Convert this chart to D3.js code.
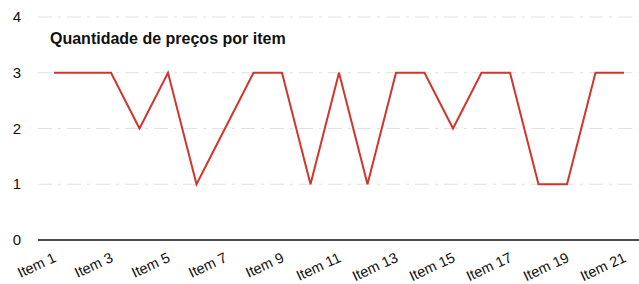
<!DOCTYPE html>
<html>
<head>
<meta charset="utf-8">
<script src="https://cdn.jsdelivr.net/npm/d3@7"></script>
<style>
  body { margin: 0; background: #fff; }
  text { font-family: "Liberation Sans", Arial, sans-serif; }
</style>
</head>
<body>
<div id="chart"></div>
<script>
var items = ['Item 1','Item 2','Item 3','Item 4','Item 5','Item 6','Item 7','Item 8','Item 9','Item 10','Item 11',
             'Item 12','Item 13','Item 14','Item 15','Item 16','Item 17','Item 18','Item 19','Item 20','Item 21'];
var counts = [3,3,3,2,3,1,2,3,3,1,3,1,3,3,2,3,3,1,1,3,3];
var yTicks = [0,1,2,3,4];
var title = 'Quantidade de preços por item';

var svgSize = {width: 639, height: 284};

var svg = d3.select('#chart').append('svg')
    .attr('width', svgSize.width)
    .attr('height', svgSize.height);

var x = d3.scalePoint()
    .domain(items)
    .range([54, 624]);

var y = d3.scaleLinear()
    .domain([0,4])
    .range([240, 17]);

// faint gridlines
svg.append('g').selectAll('line')
    .data(yTicks.slice(1))
    .enter().append('line')
    .attr('x1', 38).attr('x2', 639)
    .attr('y1', function(d) { return y(d); })
    .attr('y2', function(d) { return y(d); })
    .attr('stroke', '#e2e2e2')
    .attr('stroke-width', 1)
    .attr('stroke-dasharray', '14,6,3,6');

// y labels
svg.append('g').selectAll('text')
    .data(yTicks)
    .enter().append('text')
    .attr('x', 17)
    .attr('y', function(d) { return y(d) + 5; })
    .attr('text-anchor', 'middle')
    .attr('font-size', 15)
    .attr('fill', '#111')
    .text(function(d) { return d; });

// x axis baseline
svg.append('line')
    .attr('x1', 38).attr('x2', 639)
    .attr('y1', y(0)).attr('y2', y(0))
    .attr('stroke', '#111')
    .attr('stroke-width', 1.6);

// x labels, every other item
svg.append('g').selectAll('text')
    .data(items.filter(function(d, i) { return i % 2 === 0; }))
    .enter().append('text')
    .attr('transform', function(d) { return 'translate(' + (x(d) + 3) + ',' + 261 + ') rotate(-25)'; })
    .attr('text-anchor', 'end')
    .attr('font-size', 14.5)
    .attr('fill', '#111')
    .text(function(d) { return d; });

// title
svg.append('text')
    .attr('x', 50)
    .attr('y', 44)
    .attr('font-size', 16)
    .attr('font-weight', 'bold')
    .attr('fill', '#111')
    .text(title);

var line = d3.line()
    .x(function(d, i) { return x(items[i]); })
    .y(function(d) { return y(d); });

svg.append('path')
    .datum(counts)
    .attr('fill', 'none')
    .attr('stroke', '#d2352b')
    .attr('stroke-width', 2)
    .attr('stroke-linejoin', 'miter')
    .attr('d', line);
</script>
</body>
</html>
